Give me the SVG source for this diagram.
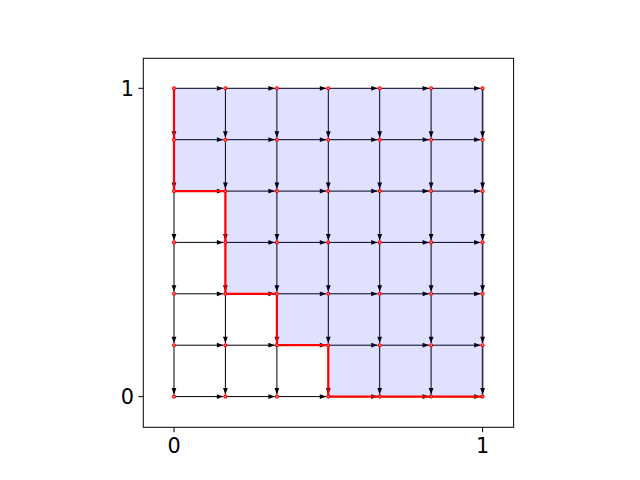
<svg xmlns="http://www.w3.org/2000/svg" width="640" height="480" viewBox="0 0 640 480">
<style>
.ln{stroke:#000;stroke-width:1;marker-end:url(#ah)}
.re{stroke:#2a2a48;stroke-width:1.6}
.tk{stroke:#000;stroke-width:1}
.lbl{font-family:"DejaVu Sans","Liberation Sans",sans-serif;font-size:20.8px;fill:#000}
.pt{fill:#ff9090;stroke:#ff0000;stroke-width:1.1}
</style>
<defs>
<marker id="ah" markerUnits="userSpaceOnUse" markerWidth="8" markerHeight="6" refX="6.5" refY="2.4" orient="auto" overflow="visible">
<path d="M0,0 L6.5,2.4 L0,4.8 z" fill="#000"/>
</marker>
</defs>
<rect x="0" y="0" width="640" height="480" fill="#fff"/>
<g id="connectors">
<line class="ln" x1="174" y1="88.3" x2="223.4" y2="88.3"/><line class="ln" x1="225.4" y1="88.3" x2="274.9" y2="88.3"/><line class="ln" x1="276.9" y1="88.3" x2="326.3" y2="88.3"/><line class="ln" x1="328.3" y1="88.3" x2="377.7" y2="88.3"/><line class="ln" x1="379.7" y1="88.3" x2="429.1" y2="88.3"/><line class="ln" x1="431.1" y1="88.3" x2="480.6" y2="88.3"/>
<line class="ln" x1="174" y1="139.7" x2="223.4" y2="139.7"/><line class="ln" x1="225.4" y1="139.7" x2="274.9" y2="139.7"/><line class="ln" x1="276.9" y1="139.7" x2="326.3" y2="139.7"/><line class="ln" x1="328.3" y1="139.7" x2="377.7" y2="139.7"/><line class="ln" x1="379.7" y1="139.7" x2="429.1" y2="139.7"/><line class="ln" x1="431.1" y1="139.7" x2="480.6" y2="139.7"/>
<line class="ln" x1="174" y1="191.1" x2="223.4" y2="191.1"/><line class="ln" x1="225.4" y1="191.1" x2="274.9" y2="191.1"/><line class="ln" x1="276.9" y1="191.1" x2="326.3" y2="191.1"/><line class="ln" x1="328.3" y1="191.1" x2="377.7" y2="191.1"/><line class="ln" x1="379.7" y1="191.1" x2="429.1" y2="191.1"/><line class="ln" x1="431.1" y1="191.1" x2="480.6" y2="191.1"/>
<line class="ln" x1="174" y1="242.4" x2="223.4" y2="242.4"/><line class="ln" x1="225.4" y1="242.4" x2="274.9" y2="242.4"/><line class="ln" x1="276.9" y1="242.4" x2="326.3" y2="242.4"/><line class="ln" x1="328.3" y1="242.4" x2="377.7" y2="242.4"/><line class="ln" x1="379.7" y1="242.4" x2="429.1" y2="242.4"/><line class="ln" x1="431.1" y1="242.4" x2="480.6" y2="242.4"/>
<line class="ln" x1="174" y1="293.8" x2="223.4" y2="293.8"/><line class="ln" x1="225.4" y1="293.8" x2="274.9" y2="293.8"/><line class="ln" x1="276.9" y1="293.8" x2="326.3" y2="293.8"/><line class="ln" x1="328.3" y1="293.8" x2="377.7" y2="293.8"/><line class="ln" x1="379.7" y1="293.8" x2="429.1" y2="293.8"/><line class="ln" x1="431.1" y1="293.8" x2="480.6" y2="293.8"/>
<line class="ln" x1="174" y1="345.2" x2="223.4" y2="345.2"/><line class="ln" x1="225.4" y1="345.2" x2="274.9" y2="345.2"/><line class="ln" x1="276.9" y1="345.2" x2="326.3" y2="345.2"/><line class="ln" x1="328.3" y1="345.2" x2="377.7" y2="345.2"/><line class="ln" x1="379.7" y1="345.2" x2="429.1" y2="345.2"/><line class="ln" x1="431.1" y1="345.2" x2="480.6" y2="345.2"/>
<line class="ln" x1="174" y1="396.6" x2="223.4" y2="396.6"/><line class="ln" x1="225.4" y1="396.6" x2="274.9" y2="396.6"/><line class="ln" x1="276.9" y1="396.6" x2="326.3" y2="396.6"/><line class="ln" x1="328.3" y1="396.6" x2="377.7" y2="396.6"/><line class="ln" x1="379.7" y1="396.6" x2="429.1" y2="396.6"/><line class="ln" x1="431.1" y1="396.6" x2="480.6" y2="396.6"/>
<line class="ln" x1="174" y1="88.3" x2="174" y2="137.7"/><line class="ln" x1="174" y1="139.7" x2="174" y2="189.1"/><line class="ln" x1="174" y1="191.1" x2="174" y2="240.4"/><line class="ln" x1="174" y1="242.4" x2="174" y2="291.8"/><line class="ln" x1="174" y1="293.8" x2="174" y2="343.2"/><line class="ln" x1="174" y1="345.2" x2="174" y2="394.6"/>
<line class="ln" x1="225.4" y1="88.3" x2="225.4" y2="137.7"/><line class="ln" x1="225.4" y1="139.7" x2="225.4" y2="189.1"/><line class="ln" x1="225.4" y1="191.1" x2="225.4" y2="240.4"/><line class="ln" x1="225.4" y1="242.4" x2="225.4" y2="291.8"/><line class="ln" x1="225.4" y1="293.8" x2="225.4" y2="343.2"/><line class="ln" x1="225.4" y1="345.2" x2="225.4" y2="394.6"/>
<line class="ln" x1="276.9" y1="88.3" x2="276.9" y2="137.7"/><line class="ln" x1="276.9" y1="139.7" x2="276.9" y2="189.1"/><line class="ln" x1="276.9" y1="191.1" x2="276.9" y2="240.4"/><line class="ln" x1="276.9" y1="242.4" x2="276.9" y2="291.8"/><line class="ln" x1="276.9" y1="293.8" x2="276.9" y2="343.2"/><line class="ln" x1="276.9" y1="345.2" x2="276.9" y2="394.6"/>
<line class="ln" x1="328.3" y1="88.3" x2="328.3" y2="137.7"/><line class="ln" x1="328.3" y1="139.7" x2="328.3" y2="189.1"/><line class="ln" x1="328.3" y1="191.1" x2="328.3" y2="240.4"/><line class="ln" x1="328.3" y1="242.4" x2="328.3" y2="291.8"/><line class="ln" x1="328.3" y1="293.8" x2="328.3" y2="343.2"/><line class="ln" x1="328.3" y1="345.2" x2="328.3" y2="394.6"/>
<line class="ln" x1="379.7" y1="88.3" x2="379.7" y2="137.7"/><line class="ln" x1="379.7" y1="139.7" x2="379.7" y2="189.1"/><line class="ln" x1="379.7" y1="191.1" x2="379.7" y2="240.4"/><line class="ln" x1="379.7" y1="242.4" x2="379.7" y2="291.8"/><line class="ln" x1="379.7" y1="293.8" x2="379.7" y2="343.2"/><line class="ln" x1="379.7" y1="345.2" x2="379.7" y2="394.6"/>
<line class="ln" x1="431.1" y1="88.3" x2="431.1" y2="137.7"/><line class="ln" x1="431.1" y1="139.7" x2="431.1" y2="189.1"/><line class="ln" x1="431.1" y1="191.1" x2="431.1" y2="240.4"/><line class="ln" x1="431.1" y1="242.4" x2="431.1" y2="291.8"/><line class="ln" x1="431.1" y1="293.8" x2="431.1" y2="343.2"/><line class="ln" x1="431.1" y1="345.2" x2="431.1" y2="394.6"/>
<line class="ln re" x1="482.6" y1="88.3" x2="482.6" y2="137.7"/><line class="ln re" x1="482.6" y1="139.7" x2="482.6" y2="189.1"/><line class="ln re" x1="482.6" y1="191.1" x2="482.6" y2="240.4"/><line class="ln re" x1="482.6" y1="242.4" x2="482.6" y2="291.8"/><line class="ln re" x1="482.6" y1="293.8" x2="482.6" y2="343.2"/><line class="ln re" x1="482.6" y1="345.2" x2="482.6" y2="394.6"/>
</g>
<g id="region">
<path d="M174,88.3 H482.6 V396.6 H328.3 V345.2 H276.9 V293.8 H225.4 V191.1 H174 Z" fill="#0000ff" fill-opacity="0.12"/>
</g>
<g id="boundary">
<path d="M174,88.3 V191.1 H225.4 V293.8 H276.9 V345.2 H328.3 V396.6 H482.6" fill="none" stroke="#ff0000" stroke-width="2.2"/>
</g>
<g id="points">
<circle class="pt" cx="174" cy="88.3" r="1.5"/><circle class="pt" cx="225.4" cy="88.3" r="1.5"/><circle class="pt" cx="276.9" cy="88.3" r="1.5"/><circle class="pt" cx="328.3" cy="88.3" r="1.5"/><circle class="pt" cx="379.7" cy="88.3" r="1.5"/><circle class="pt" cx="431.1" cy="88.3" r="1.5"/><circle class="pt" cx="482.6" cy="88.3" r="1.5"/>
<circle class="pt" cx="174" cy="139.7" r="1.5"/><circle class="pt" cx="225.4" cy="139.7" r="1.5"/><circle class="pt" cx="276.9" cy="139.7" r="1.5"/><circle class="pt" cx="328.3" cy="139.7" r="1.5"/><circle class="pt" cx="379.7" cy="139.7" r="1.5"/><circle class="pt" cx="431.1" cy="139.7" r="1.5"/><circle class="pt" cx="482.6" cy="139.7" r="1.5"/>
<circle class="pt" cx="174" cy="191.1" r="1.5"/><circle class="pt" cx="225.4" cy="191.1" r="1.5"/><circle class="pt" cx="276.9" cy="191.1" r="1.5"/><circle class="pt" cx="328.3" cy="191.1" r="1.5"/><circle class="pt" cx="379.7" cy="191.1" r="1.5"/><circle class="pt" cx="431.1" cy="191.1" r="1.5"/><circle class="pt" cx="482.6" cy="191.1" r="1.5"/>
<circle class="pt" cx="174" cy="242.4" r="1.5"/><circle class="pt" cx="225.4" cy="242.4" r="1.5"/><circle class="pt" cx="276.9" cy="242.4" r="1.5"/><circle class="pt" cx="328.3" cy="242.4" r="1.5"/><circle class="pt" cx="379.7" cy="242.4" r="1.5"/><circle class="pt" cx="431.1" cy="242.4" r="1.5"/><circle class="pt" cx="482.6" cy="242.4" r="1.5"/>
<circle class="pt" cx="174" cy="293.8" r="1.5"/><circle class="pt" cx="225.4" cy="293.8" r="1.5"/><circle class="pt" cx="276.9" cy="293.8" r="1.5"/><circle class="pt" cx="328.3" cy="293.8" r="1.5"/><circle class="pt" cx="379.7" cy="293.8" r="1.5"/><circle class="pt" cx="431.1" cy="293.8" r="1.5"/><circle class="pt" cx="482.6" cy="293.8" r="1.5"/>
<circle class="pt" cx="174" cy="345.2" r="1.5"/><circle class="pt" cx="225.4" cy="345.2" r="1.5"/><circle class="pt" cx="276.9" cy="345.2" r="1.5"/><circle class="pt" cx="328.3" cy="345.2" r="1.5"/><circle class="pt" cx="379.7" cy="345.2" r="1.5"/><circle class="pt" cx="431.1" cy="345.2" r="1.5"/><circle class="pt" cx="482.6" cy="345.2" r="1.5"/>
<circle class="pt" cx="174" cy="396.6" r="1.5"/><circle class="pt" cx="225.4" cy="396.6" r="1.5"/><circle class="pt" cx="276.9" cy="396.6" r="1.5"/><circle class="pt" cx="328.3" cy="396.6" r="1.5"/><circle class="pt" cx="379.7" cy="396.6" r="1.5"/><circle class="pt" cx="431.1" cy="396.6" r="1.5"/><circle class="pt" cx="482.6" cy="396.6" r="1.5"/>
</g>
<g id="axes">
<rect x="143.3" y="58.3" width="370.3" height="369" fill="none" stroke="#000" stroke-width="1"/>
<line class="tk" x1="174" y1="427.3" x2="174" y2="432.2"/>
<line class="tk" x1="482.6" y1="427.3" x2="482.6" y2="432.2"/>
<line class="tk" x1="138.4" y1="88.3" x2="143.3" y2="88.3"/>
<line class="tk" x1="138.4" y1="396.6" x2="143.3" y2="396.6"/>
<text class="lbl" x="174" y="453" text-anchor="middle">0</text>
<text class="lbl" x="482.6" y="453" text-anchor="middle">1</text>
<text class="lbl" x="134" y="96" text-anchor="end">1</text>
<text class="lbl" x="134" y="404.2" text-anchor="end">0</text>
</g>
</svg>
